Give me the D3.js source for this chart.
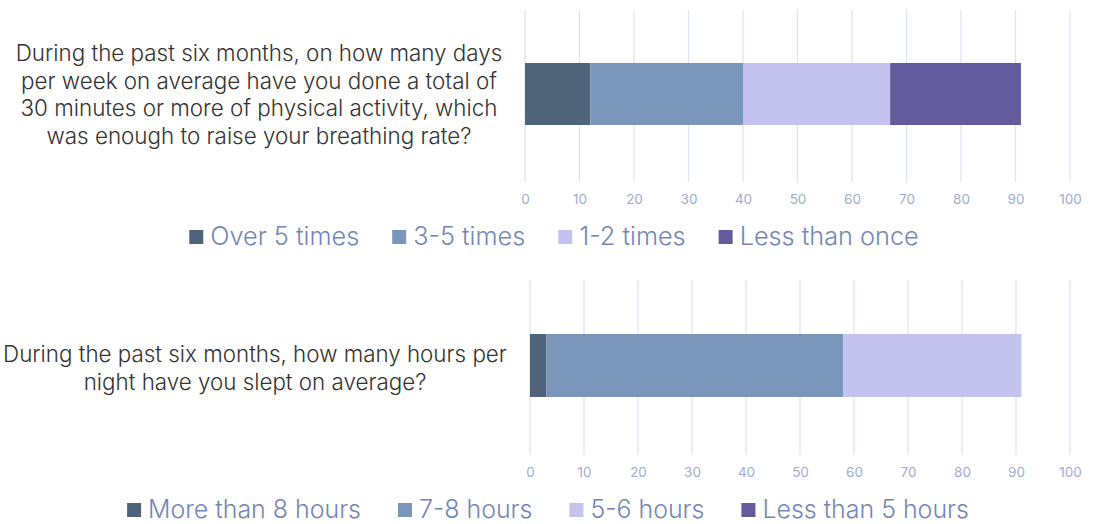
<!DOCTYPE html>
<html><head><meta charset="utf-8">
<script src="https://cdn.jsdelivr.net/npm/d3@7"></script>
<style>body{margin:0;background:#fff;} svg{display:block;font-family:Inter,"Open Sans",sans-serif;}</style>
</head><body>
<script>
const ticks = [0,10,20,30,40,50,60,70,80,90,100];
const q1Lines = ["During the past six months, on how many days","per week on average have you done a total of","30 minutes or more of physical activity, which","was enough to raise your breathing rate?"];
const q1Series = ["Over 5 times","3-5 times","1-2 times","Less than once"];
const q1Values = [12,28,27,24];
const q2Lines = ["During the past six months, how many hours per","night have you slept on average?"];
const q2Series = ["More than 8 hours","7-8 hours","5-6 hours","Less than 5 hours"];
const q2Values = [3,55,33,0];
const colors = ["#4f6479","#7a96bb","#c4c2ee","#645b9e"];
const FONT = "Inter";

const W=1093,H=524;
const svg=d3.select("body").append("svg").attr("width",W).attr("height",H);

function fitSize(txt,target,weight){
  const t=svg.append("text").attr("font-size",20).attr("font-family",FONT).attr("font-weight",weight||400).text(txt);
  const w=t.node().getComputedTextLength(); t.remove();
  return 20*target/w;
}

function panel(cfg){
  const g=svg.append("g");
  const x=d3.scaleLinear().domain([0,100]).range([cfg.x0,cfg.x1]);
  g.selectAll("line.grid").data(ticks).join("line")
    .attr("x1",d=>x(d)).attr("x2",d=>x(d)).attr("y1",cfg.gTop).attr("y2",cfg.gBot)
    .attr("stroke","#dfe4f1").attr("stroke-width",1.3);
  const ax=g.append("g").attr("transform",`translate(0,${cfg.gBot})`)
    .call(d3.axisBottom(x).tickValues(ticks).tickSize(0).tickPadding(12));
  ax.select(".domain").remove();
  ax.selectAll("text").attr("fill","#9dadd3").attr("font-size",13.5).attr("font-weight",400).attr("font-family",FONT);
  let acc=0;
  const segs=cfg.values.map((v,i)=>{const s={start:acc,end:acc+v,i};acc+=v;return s;});
  g.selectAll("rect.bar").data(segs.filter(s=>s.end>s.start)).join("rect")
    .attr("x",d=>x(d.start)).attr("width",d=>x(d.end)-x(d.start))
    .attr("y",cfg.barY).attr("height",cfg.barH).attr("fill",d=>colors[d.i]);
  const qfs=Math.min(22.4,fitSize(cfg.lines[0],cfg.qw,300));
  const t=g.append("text").attr("text-anchor","middle").attr("fill","#333").attr("font-size",qfs).attr("font-weight",300).attr("font-family",FONT);
  cfg.lines.forEach((l,i)=>t.append("tspan").attr("x",cfg.qx).attr("y",cfg.qy+i*27.5).text(l));
  const lfs=fitSize(cfg.series[0],cfg.lw,300);
  const lg=g.append("g");
  let cx=0;
  cfg.series.forEach((s,i)=>{
    const it=lg.append("g");
    it.append("rect").attr("x",0).attr("y",-15).attr("width",14).attr("height",14).attr("fill",colors[i]);
    const tx=it.append("text").attr("x",21).attr("y",0).attr("fill","#7287b8").attr("font-size",lfs).attr("font-weight",300).attr("font-family",FONT).text(s);
    const w=21+tx.node().getComputedTextLength();
    it.attr("transform",`translate(${cx},0)`);
    cx+=w+cfg.gap;
  });
  const total=cx-cfg.gap;
  lg.attr("transform",`translate(${cfg.lcx-total/2},${cfg.ly})`);
}

panel({x0:525,x1:1070,gTop:10,gBot:182,barY:63,barH:62,values:q1Values,series:q1Series,lines:q1Lines,qx:259,qw:496,qy:61,lw:149,lcx:554,ly:245,gap:33});
panel({x0:530,x1:1070,gTop:280,gBot:455,barY:334,barH:63,values:q2Values,series:q2Series,lines:q2Lines,qx:255,qw:504,qy:362,lw:213,lcx:548,ly:518,gap:37});
</script>
</body></html>
